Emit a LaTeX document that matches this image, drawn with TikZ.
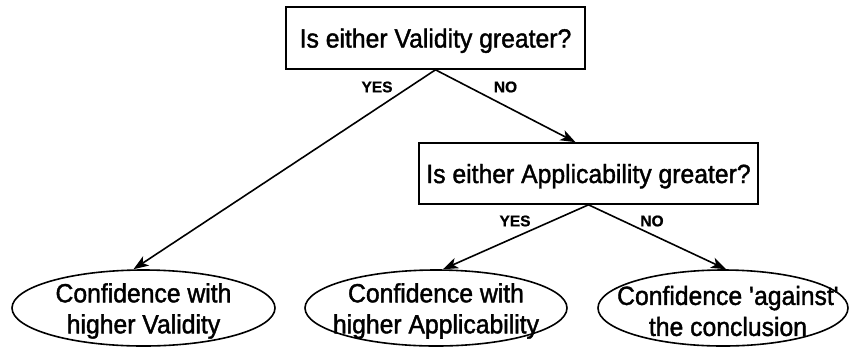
\documentclass[tikz,border=0pt]{standalone}
\usepackage{fontspec}
\setmainfont{Liberation Sans}
\newfontfamily\bodyfont{Liberation Sans}[FakeStretch=0.94,FakeBold=1.5]
\newfontfamily\lblfont{Liberation Sans Bold}[FakeBold=0.8]
\usetikzlibrary{shapes.geometric,arrows.meta}
\begin{document}
\begin{tikzpicture}[x=1pt,y=-1pt,
  qbox/.style={draw,line width=1.6pt,rectangle,inner sep=0pt,font=\bodyfont\fontsize{26.3}{30}\selectfont,text depth=0pt},
  ebox/.style={draw,line width=1.6pt,ellipse,inner sep=0pt},
  etext/.style={align=center,font=\bodyfont\fontsize{26.3}{31}\selectfont,inner sep=0pt},
  lbl/.style={font=\lblfont\fontsize{15.5}{17}\selectfont,inner sep=0pt},
  arr/.style={line width=1.6pt,-{Stealth[length=15pt,width=11pt,inset=4pt]}}]
\useasboundingbox (0,0) rectangle (850,349);
% question boxes
\node[qbox,minimum width=299pt,minimum height=62pt] (q1) at (435.5,38) {Is either Validity greater?};
\node[qbox,minimum width=339pt,minimum height=61pt] (q2) at (588.5,173.5) {Is either Applicability greater?};
% outcome ellipses
\node[ebox,minimum width=263pt,minimum height=76pt] (e1) at (143.5,308) {};
\node[ebox,minimum width=262pt,minimum height=76pt] (e2) at (436,308) {};
\node[ebox,minimum width=250pt,minimum height=76pt] (e3) at (723,308) {};
\node[etext] (t1) at (143.5,311) {Confidence with\\higher Validity};
\node[etext] (t2) at (436,311) {Confidence with\\higher Applicability};
\node[etext] (t3) at (728,311) {Confidence \textquotesingle against\textquotesingle\\the conclusion};
% connectors
\draw[arr] (q1.south) -- ([xshift=-10pt]e1.north);
\draw[arr] (q1.south) -- ([xshift=-13pt]q2.north);
\draw[arr] (q2.south) -- ([xshift=7pt]e2.north);
\draw[arr] (q2.south) -- ([xshift=3pt]e3.north);
% labels
\node[lbl] (y1) at (377,87) {YES};
\node[lbl] (n1) at (505.5,87) {NO};
\node[lbl] (y2) at (515,221) {YES};
\node[lbl] (n2) at (652,221) {NO};
\end{tikzpicture}
\end{document}
